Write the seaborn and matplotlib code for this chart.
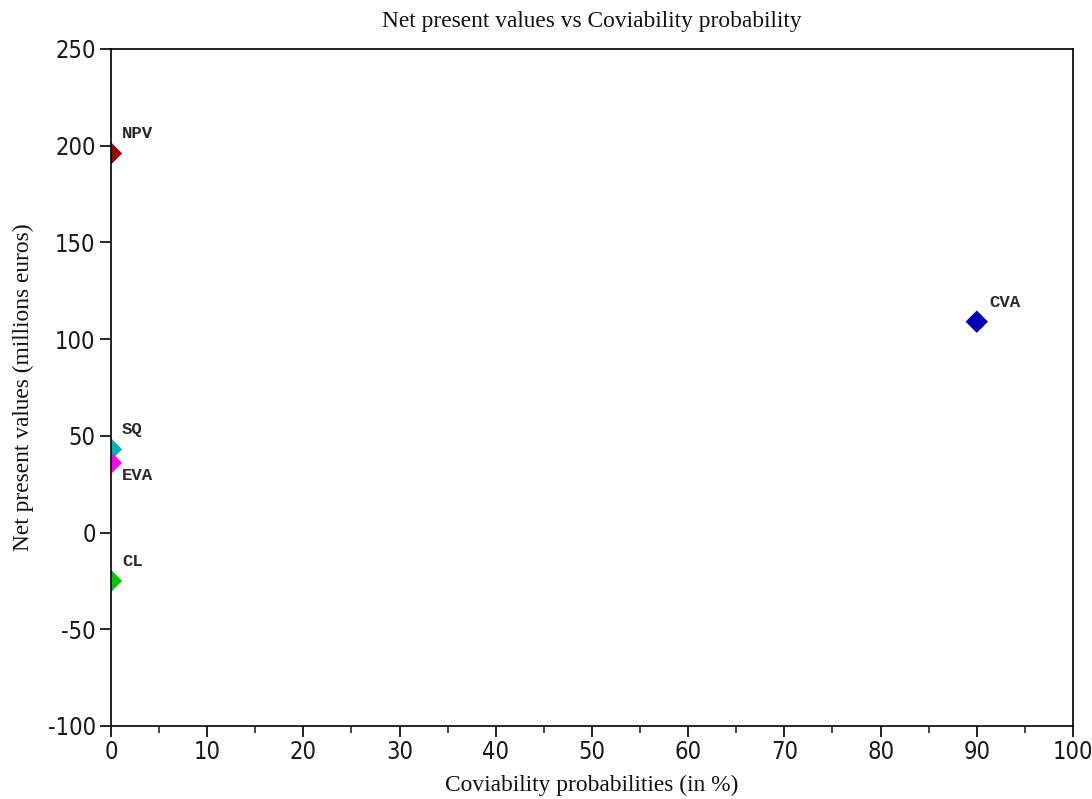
import matplotlib
matplotlib.use("Agg")
import matplotlib.pyplot as plt
import seaborn as sns
import pandas as pd
from matplotlib.ticker import MultipleLocator

sns.set_style("white")
plt.rcParams['font.family'] = ['Liberation Serif', 'DejaVu Serif']
plt.rcParams['axes.unicode_minus'] = False

names = ["NPV", "CVA", "SQ", "EVA", "CL"]
coviability = [0.0, 90.0, 0.0, 0.0, 0.0]
npv = [196, 109, 43, 36, -25]
colors = ["#a00000", "#0000b4", "#00b4b4", "#ff00ff", "#00c800"]
label_offsets = [(8, 14), (9, 14), (8, 14), (8, -9), (8, 14)]

df = pd.DataFrame({"name": names, "x": coviability, "y": npv})

fig = plt.figure(figsize=(10.92, 7.99), dpi=100)
ax = fig.add_axes([0.1016, 0.0914, 0.8810, 0.8473])

sns.scatterplot(data=df, x="x", y="y", hue="name", palette=colors,
                marker="D", s=130, edgecolor="none", legend=False, ax=ax)

for n, xv, yv, off in zip(names, coviability, npv, label_offsets):
    ax.annotate(n, (xv, yv), xytext=off, textcoords="offset points",
                fontfamily=["Liberation Mono", "DejaVu Sans Mono"],
                fontweight="bold", fontsize=12.5, color="#2a2a2a",
                ha="left", va="center", annotation_clip=False)

ax.set_xlim(0, 100)
ax.set_ylim(-100, 250)
ax.xaxis.set_major_locator(MultipleLocator(10))
ax.xaxis.set_minor_locator(MultipleLocator(5))
ax.yaxis.set_major_locator(MultipleLocator(50))

for sp in ax.spines.values():
    sp.set_color("black")
    sp.set_linewidth(1.2)

ax.tick_params(axis="both", which="major", direction="out", length=8,
               width=1.2, colors="black", labelsize=17, bottom=True, left=True,
               pad=3)
ax.tick_params(axis="x", which="minor", direction="out", length=5,
               width=1.2, bottom=True)
ax.tick_params(axis="x", which="major", pad=2)
for lab in ax.get_xticklabels() + ax.get_yticklabels():
    lab.set_fontfamily(["DejaVu Sans", "Liberation Sans"])
    lab.set_fontstretch("condensed")
    lab.set_fontweight("light")
    lab.set_color("#1a1a1a")

ax.set_title("Net present values vs Coviability probability", fontsize=16.8,
             pad=16, color="#111111")
ax.set_xlabel("Coviability probabilities (in %)", fontsize=16.8, labelpad=8,
              color="#111111")
ax.set_ylabel("Net present values (millions euros)", fontsize=16.8, labelpad=10,
              color="#111111")

fig.savefig("out.png", dpi=100)
